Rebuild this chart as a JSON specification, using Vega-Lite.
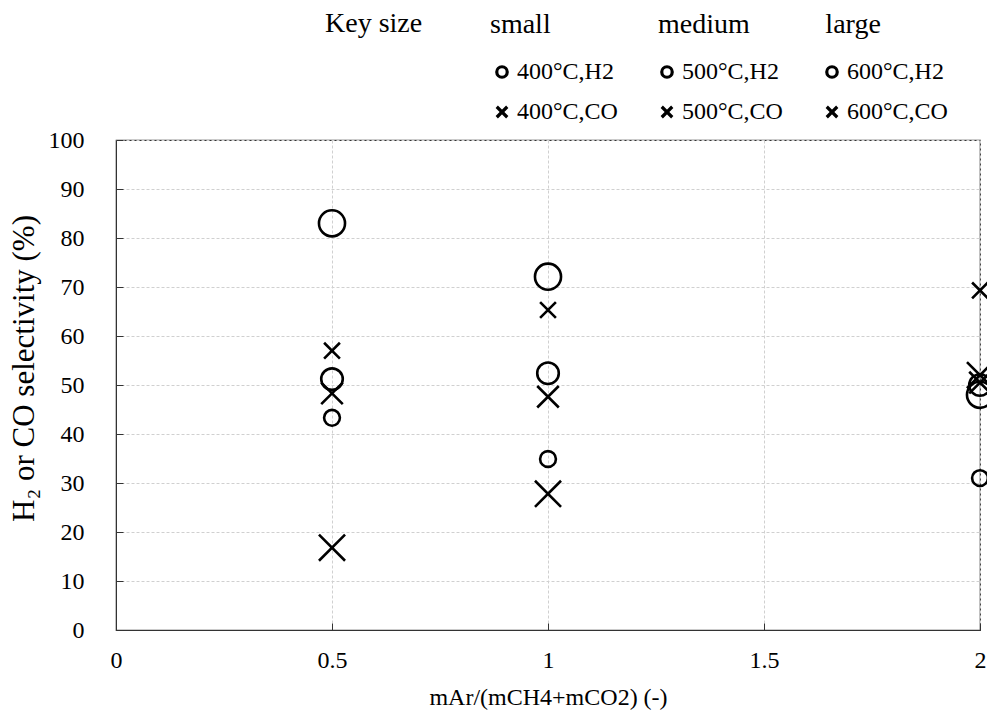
{
  "$schema": "https://vega.github.io/schema/vega-lite/v6.json",
  "width": 864,
  "height": 490,
  "autosize": {"type": "none"},
  "padding": {"left": 116, "top": 140, "right": 7, "bottom": 88},
  "background": "white",
  "title": {"text": "Key size", "anchor": "start", "frame": "group", "dx": 209, "offset": -49, "baseline": "alphabetic", "font": "Liberation Serif", "fontSize": 28, "fontWeight": "normal", "color": "black"},
  "config": {
    "view": {"stroke": "#333333", "strokeWidth": 1.2},
    "axis": {"labelFont": "Liberation Serif", "titleFont": "Liberation Serif", "labelFontSize": 24, "titleFontSize": 26, "labelColor": "black", "titleColor": "black", "titleFontWeight": "normal", "gridColor": "#d0d0d0", "gridDash": [3, 2], "domainColor": "#333333", "tickColor": "#333333"}
  },
  "data": {"values": [
    {"ratio": 0.5, "series": "400°C,H2", "temp": 400, "sel": 43.3},
    {"ratio": 0.5, "series": "500°C,H2", "temp": 500, "sel": 51.2},
    {"ratio": 0.5, "series": "600°C,H2", "temp": 600, "sel": 83},
    {"ratio": 0.5, "series": "400°C,CO", "temp": 400, "sel": 57},
    {"ratio": 0.5, "series": "500°C,CO", "temp": 500, "sel": 48.3},
    {"ratio": 0.5, "series": "600°C,CO", "temp": 600, "sel": 16.8},
    {"ratio": 1, "series": "400°C,H2", "temp": 400, "sel": 34.9},
    {"ratio": 1, "series": "500°C,H2", "temp": 500, "sel": 52.4},
    {"ratio": 1, "series": "600°C,H2", "temp": 600, "sel": 72.1},
    {"ratio": 1, "series": "400°C,CO", "temp": 400, "sel": 65.3},
    {"ratio": 1, "series": "500°C,CO", "temp": 500, "sel": 47.6},
    {"ratio": 1, "series": "600°C,CO", "temp": 600, "sel": 27.8},
    {"ratio": 2, "series": "400°C,H2", "temp": 400, "sel": 31},
    {"ratio": 2, "series": "500°C,H2", "temp": 500, "sel": 50},
    {"ratio": 2, "series": "600°C,H2", "temp": 600, "sel": 48},
    {"ratio": 2, "series": "400°C,CO", "temp": 400, "sel": 69.3},
    {"ratio": 2, "series": "500°C,CO", "temp": 500, "sel": 50.5},
    {"ratio": 2, "series": "600°C,CO", "temp": 600, "sel": 52}
  ]},
  "mark": {"type": "point", "filled": false, "stroke": "black", "strokeWidth": 2.6, "opacity": 1},
  "encoding": {
    "x": {"field": "ratio", "type": "quantitative", "scale": {"domain": [0, 2]},
      "axis": {"values": [0, 0.5, 1, 1.5, 2], "format": "~g", "title": "mAr/(mCH4+mCO2) (-)", "titleFontSize": 24, "tickSize": -7, "labelPadding": 25, "titlePadding": 13, "labelFlush": false}},
    "y": {"field": "sel", "type": "quantitative", "scale": {"domain": [0, 100]},
      "axis": {"values": [0, 10, 20, 30, 40, 50, 60, 70, 80, 90, 100], "title": "H₂ or CO selectivity (%)", "titleFontSize": 31, "titleY": 228, "tickSize": -7, "labelPadding": 39, "titlePadding": 8}},
    "shape": {"field": "series", "type": "nominal",
      "scale": {"domain": ["400°C,H2", "500°C,H2", "600°C,H2", "400°C,CO", "500°C,CO", "600°C,CO"],
        "range": ["circle", "circle", "circle", "M-1,-1L1,1M-1,1L1,-1", "M-1,-1L1,1M-1,1L1,-1", "M-1,-1L1,1M-1,1L1,-1"]},
      "legend": {"orient": "none", "legendX": 374, "legendY": -129, "columns": 3, "direction": "horizontal",
        "title": "small\u2003\u2003\u2003\u2002\u2004medium\u2003\u2003\u2002\u2009large", "titleLimit": 700, "titleFont": "Liberation Serif", "titleFontSize": 28, "titleFontWeight": "normal", "titleColor": "black", "titlePadding": 21,
        "labelFont": "Liberation Serif", "labelFontSize": 24, "labelColor": "black", "labelOffset": 3, "labelLimit": 300,
        "symbolSize": 110, "symbolStrokeWidth": 3.2, "symbolStrokeColor": "black", "symbolFillColor": "transparent",
        "columnPadding": 37, "rowPadding": 16}},
    "size": {"field": "temp", "type": "ordinal", "scale": {"domain": [400, 500, 600], "range": [250, 680, 1200]}, "legend": null}
  }
}
